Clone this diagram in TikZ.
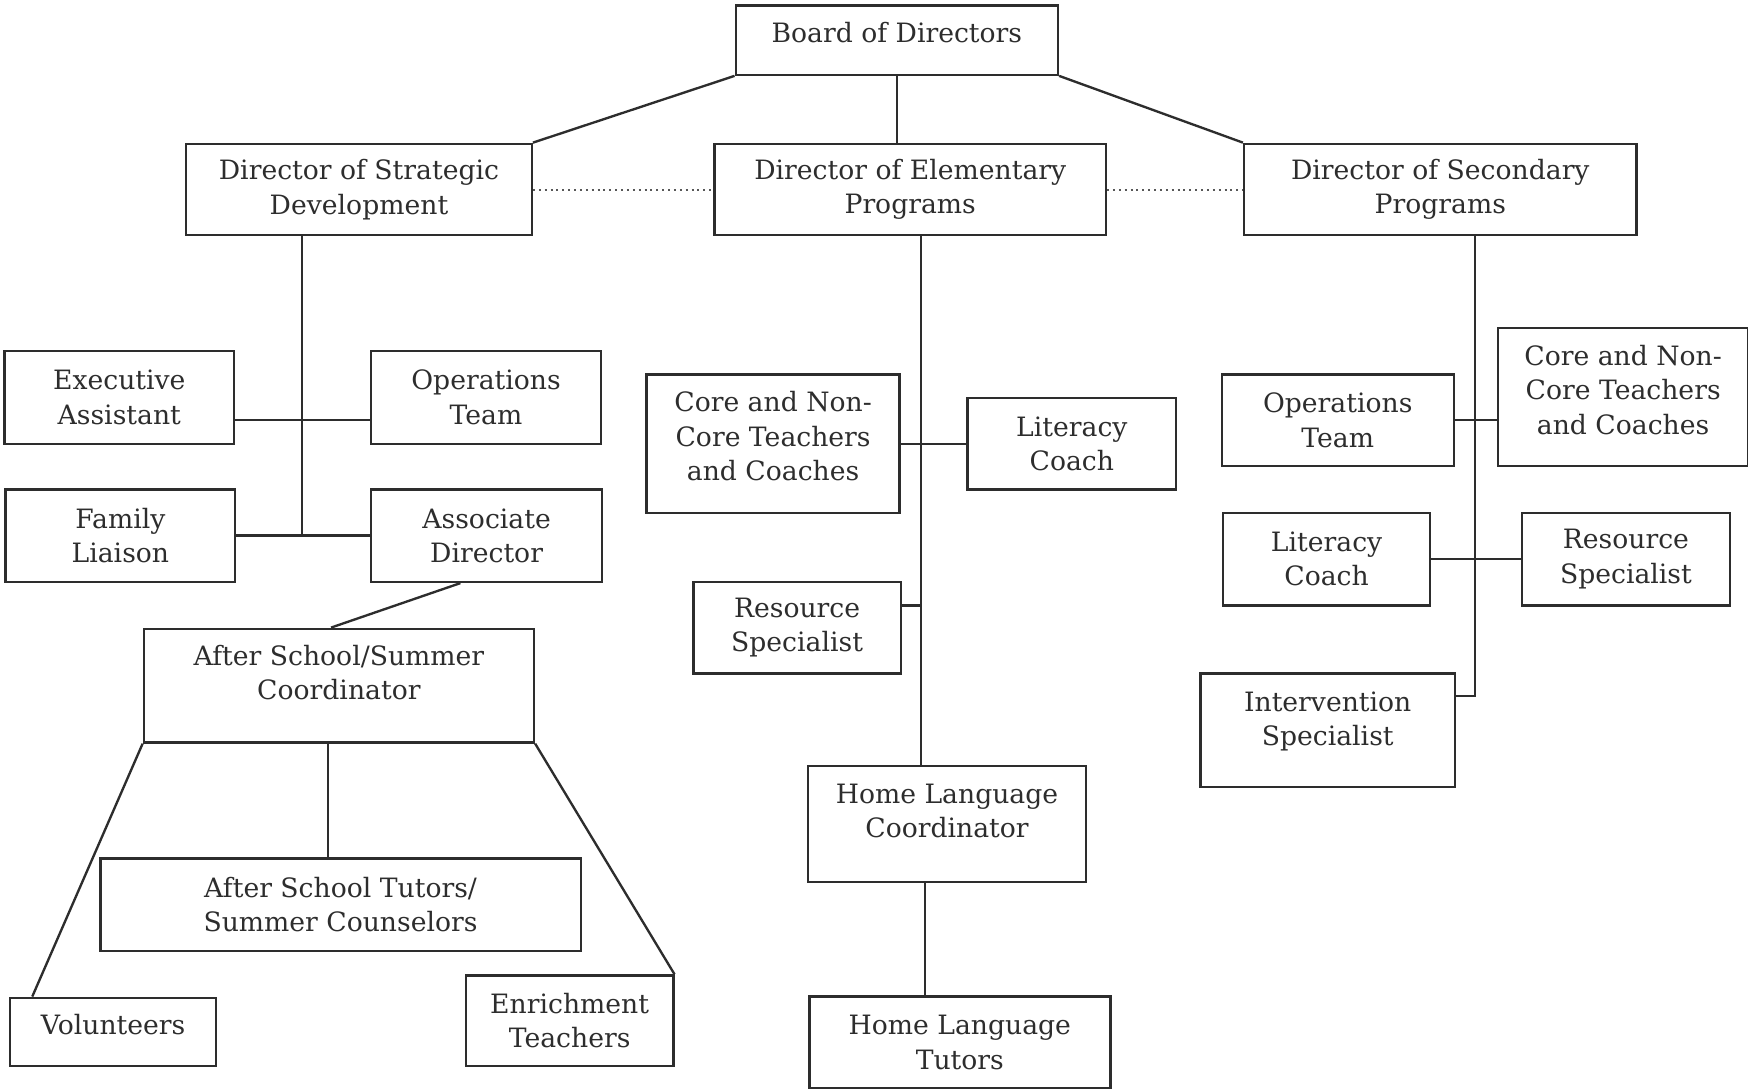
\documentclass[tikz,border=0pt]{standalone}
\usepackage{fontspec}
\setmainfont{DejaVu Serif}
\usepackage{tikz}
\usetikzlibrary{calc}
\definecolor{inkgray}{RGB}{45,45,45}

\begin{document}
\begin{tikzpicture}[x=0.1mm, y=-0.1mm, line width=0.6pt, draw=inkgray,
    every node/.style={font=\fontsize{6.8}{8.8}\selectfont, text=inkgray},
    unit/.style={draw=inkgray, line width=0.6pt, align=center, inner sep=0pt},
    sibling/.style={densely dotted, line width=0.5pt, draw=inkgray!80}]
  \useasboundingbox (0,0) rectangle (1568,977);
  % top of the chart
  \node[unit, minimum width=28.9mm, minimum height=6.2mm, text depth=1.4mm] (bod) at (804.5,36) {Board of Directors};
  \node[unit, minimum width=31.0mm, minimum height=8.2mm] (dsd) at (322,170) {Director of Strategic\\Development};
  \node[unit, minimum width=35.1mm, minimum height=8.2mm] (dep) at (816.5,170) {Director of Elementary\\Programs};
  \node[unit, minimum width=35.2mm, minimum height=8.2mm] (dsp) at (1292,170) {Director of Secondary\\Programs};
  \draw (bod.south) -- (bod.south |- dep.north);
  \draw (bod.south west) -- (dsd.north east);
  \draw (bod.south east) -- (dsp.north west);
  \draw[sibling] (dsd.east) -- (dep.west);
  \draw[sibling] (dep.east) -- (dsp.west);

  % strategic development
  \node[unit, minimum width=20.6mm, minimum height=8.3mm] (exa) at (107,356.5) {Executive\\Assistant};
  \node[unit, minimum width=20.6mm, minimum height=8.3mm] (opl) at (436,356.5) {Operations\\Team};
  \node[unit, minimum width=20.6mm, minimum height=8.3mm] (fam) at (108,480.5) {Family\\Liaison};
  \node[unit, minimum width=20.7mm, minimum height=8.3mm] (asd) at (436.5,480.5) {Associate\\Director};
  \node[unit, minimum width=35.0mm, minimum height=10.2mm, text depth=2.4mm] (asc) at (304,615) {After School/Summer\\Coordinator};
  \node[unit, minimum width=43.1mm, minimum height=8.3mm] (tut) at (305.5,811.5) {After School Tutors/\\Summer Counselors};
  \node[unit, minimum width=18.5mm, minimum height=6.1mm, text depth=1.3mm] (vol) at (101.5,925.5) {Volunteers};
  \node[unit, minimum width=18.6mm, minimum height=8.1mm] (enr) at (511,915.5) {Enrichment\\Teachers};
  \coordinate (sdj) at (271,481);
  \draw (dsd.south -| sdj) -- (sdj);
  \draw ([yshift=-2.05mm]exa.east) -- ([yshift=-2.05mm]opl.west);
  \draw (fam.east) -- (asd.west);
  \draw ([xshift=-2.35mm]asd.south) -- ([xshift=-0.7mm]asc.north);
  \draw ([xshift=-0.95mm]asc.south) -- ([xshift=-0.95mm]asc.south |- tut.north);
  \draw (asc.south west) -- ([xshift=2.1mm]vol.north west);
  \draw (asc.south east) -- (enr.north east);

  % elementary programs
  \node[unit, minimum width=22.7mm, minimum height=12.4mm, text depth=1.4mm] (cte) at (693.5,398) {Core and Non-\\Core Teachers\\and Coaches};
  \node[unit, minimum width=18.7mm, minimum height=8.2mm] (lce) at (961.5,398) {Literacy\\Coach};
  \node[unit, minimum width=18.6mm, minimum height=8.2mm] (rse) at (715,563) {Resource\\Specialist};
  \node[unit, minimum width=24.9mm, minimum height=10.4mm, text depth=2.3mm] (hlc) at (849.5,739) {Home Language\\Coordinator};
  \node[unit, minimum width=27.0mm, minimum height=8.2mm] (hlt) at (861,935) {Home Language\\Tutors};
  \draw ([xshift=0.95mm]dep.south) coordinate (elt) -- (elt |- hlc.north);
  \draw (cte.east) -- (lce.west);
  \draw ([yshift=2mm]rse.east) -- ([yshift=2mm]rse.east -| elt);
  \draw ([xshift=-2mm]hlc.south) -- ([xshift=-2mm]hlc.south |- hlt.north);

  % secondary programs
  \node[unit, minimum width=20.8mm, minimum height=8.2mm] (ops) at (1200,377) {Operations\\Team};
  \node[unit, minimum width=22.4mm, minimum height=12.4mm, text depth=1.3mm] (cts) at (1456,356) {Core and Non-\\Core Teachers\\and Coaches};
  \node[unit, minimum width=18.6mm, minimum height=8.3mm] (lcs) at (1190,501.5) {Literacy\\Coach};
  \node[unit, minimum width=18.7mm, minimum height=8.3mm] (rss) at (1458.5,501.5) {Resource\\Specialist};
  \node[unit, minimum width=22.8mm, minimum height=10.2mm, text depth=2.1mm] (ins) at (1191,655) {Intervention\\Specialist};
  \draw ([xshift=3.1mm]dsp.south) coordinate (sct) |- ([yshift=3.05mm]ins.east);
  \draw (ops.east) -- (ops.east -| cts.west);
  \draw (lcs.east) -- (rss.west);
\end{tikzpicture}
\end{document}
